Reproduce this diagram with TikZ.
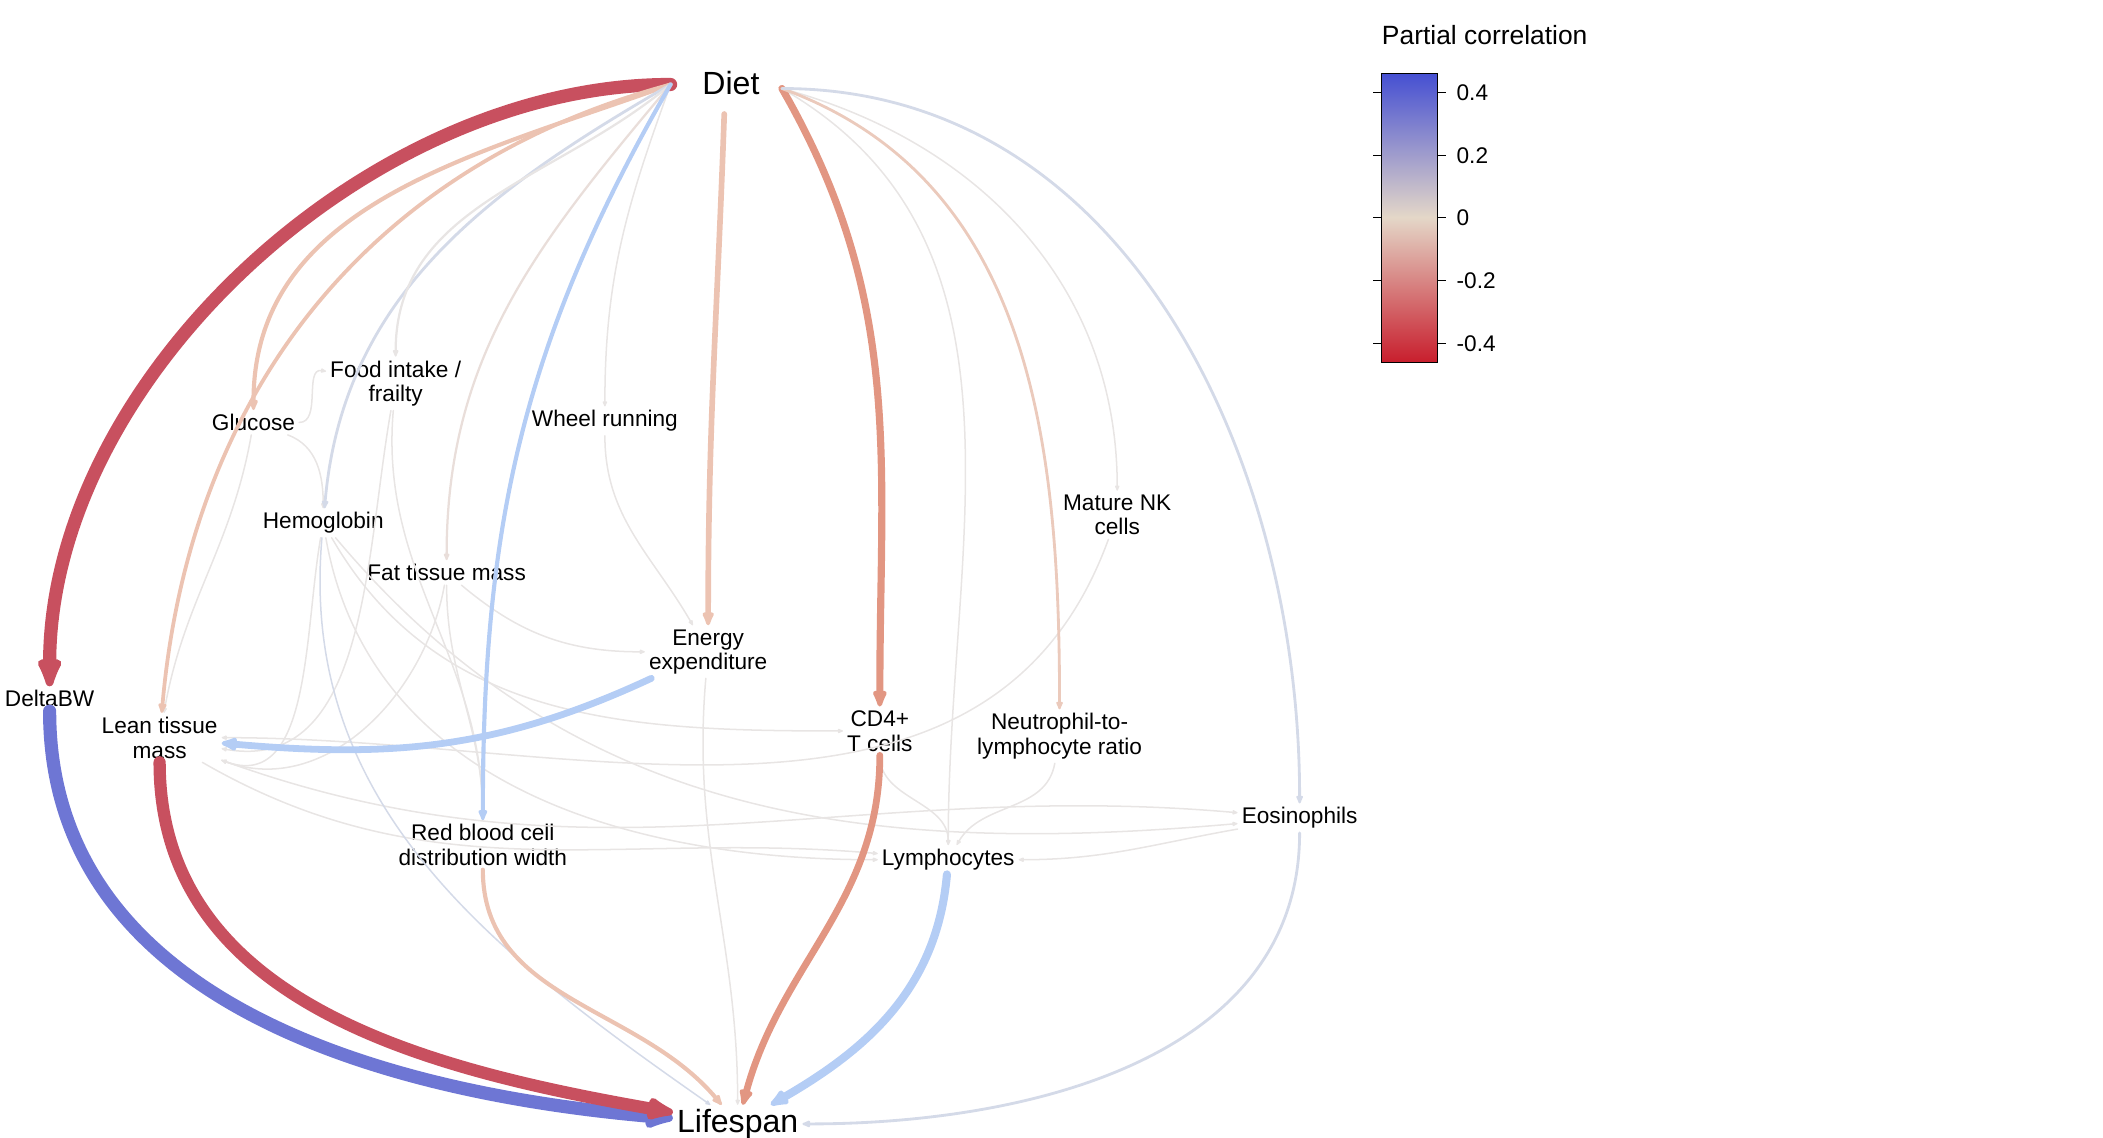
\documentclass[tikz,border=0pt]{standalone}
\usepackage{fontspec}
\setmainfont{Liberation Sans}
\usetikzlibrary{arrows.meta}
\definecolor{cR}{RGB}{200,80,95}
\definecolor{cB}{RGB}{110,118,212}
\definecolor{cS}{RGB}{226,150,130}
\definecolor{cLS}{RGB}{236,195,178}
\definecolor{cLB}{RGB}{180,205,245}
\definecolor{cG}{RGB}{212,218,232}
\definecolor{cF}{RGB}{232,229,228}
\definecolor{cbB}{RGB}{70,80,210}
\definecolor{cbLB}{RGB}{165,198,248}
\definecolor{cbZ}{RGB}{228,215,200}
\definecolor{cbS}{RGB}{232,150,120}
\definecolor{cbR}{RGB}{200,30,45}
\tikzset{
 lbl/.style={align=center,font=\fontsize{12}{13}\selectfont,inner sep=2pt},
 big/.style={font=\fontsize{17}{18}\selectfont,inner sep=2pt},
 edge/.style={-{Latex[round,scale=0.6]},line cap=round},
 tk/.style={font=\fontsize{12}{13}\selectfont,anchor=west}
}
\begin{document}
\begin{tikzpicture}[x=0.025cm,y=-0.025cm]
\useasboundingbox (0,0) rectangle (1568,848);
\node[big] (diet) at (545,62) {Diet};
\coordinate (dL) at (500,63);
\coordinate (dM) at (540,85);
\coordinate (dR) at (583,66);
\node[big] (life) at (550,838) {Lifespan};
\node[lbl] (glu) at (189,315) {Glucose};
\node[lbl] (food) at (295,286) {Food intake /\\frailty};
\node[lbl] (wheel) at (451,314) {Wheel running};
\node[lbl] (hem) at (241,390) {Hemoglobin};
\node[lbl] (fat) at (333,427) {Fat tissue mass};
\node[lbl] (nk) at (833,384) {Mature NK\\cells};
\node[lbl] (en) at (528,486) {Energy\\expenditure};
\node[lbl] (dbw) at (37,521) {DeltaBW};
\node[lbl] (lean) at (119,550) {Lean tissue\\mass};
\node[lbl] (cd4) at (656,545) {CD4+\\T cells};
\node[lbl] (nlr) at (790,549) {Neutrophil-to-\\lymphocyte ratio};
\node[lbl] (eos) at (969,610) {Eosinophils};
\node[lbl] (rbc) at (360,630) {Red blood cell\\distribution width};
\node[lbl] (lym) at (707,641) {Lymphocytes};
% faint edges
\begin{scope}[edge,cF,line width=0.8pt]
\draw (glu) to[out=0,in=-190] (food);
\draw (glu) to[out=-20,in=-270] (hem);
\draw (glu) to[out=-100,in=-280] (lean);
\draw (food) to[out=-100,in=-10] (lean);
\draw (hem) to[out=-100,in=-20] (lean);
\draw (hem) to[out=-80,in=-180] (lym);
\draw (hem) to[out=-60,in=-180] (cd4);
\draw (hem) to[out=-50,in=-175] (eos);
\draw (fat) to[out=-100,in=-20] (lean);
\draw (fat) to[out=-40,in=-180] (en);
\draw (fat) to[out=-90,in=-270] (rbc);
\draw (food) to[out=-95,in=-270] (rbc);
\draw (nk) to[out=-110,in=0] (lean);
\draw (nlr) to[out=-100,in=-300] (lym);
\draw (eos) to[out=-170,in=0] (lym);
\draw (lean) to[out=-30,in=-185] (lym);
\draw (lean) to[out=-20,in=-185] (eos);
\draw (wheel) to[out=-90,in=-240] (en);
\draw (cd4) to[out=-90,in=-270] (lym);
\draw (en) to[out=-95,in=-270] (life);
\draw (dL) to[out=-110,in=-270] (wheel);
\draw (dR) to[out=-15,in=-270] (nk);
\draw (dR) to[out=-30,in=-270] (lym);
\draw[cG] (hem) to[out=-95,in=-215] (life);
\end{scope}
% diet edges
\draw[edge,cR,line width=7pt] (dL) to[out=-180,in=-270,looseness=0.9] (dbw);
\draw[edge,cLS,line width=2pt] (dL) to[out=-165,in=-275] (lean);
\draw[edge,cLS,line width=2.2pt] (dL) to[out=-160,in=-270] (glu);
\draw[edge,cG,line width=1.5pt] (dL) to[out=-150,in=-275] (hem);
\draw[edge,cF,line width=1.2pt] (dL) to[out=-140,in=-270] (food);
\draw[edge,cF!80!cLS,line width=1.2pt] (dL) to[out=-130,in=-270] (fat);
\draw[edge,cLB,line width=2.2pt] (dL) to[out=-120,in=-270] (rbc);
\draw[edge,cLS,line width=3pt] (dM) to[out=-92,in=-270] (en);
\draw[edge,cS,line width=3.8pt] (dR) to[out=-60,in=-270] (cd4);
\draw[edge,cLS!80!cF,line width=1.5pt] (dR) to[out=-20,in=-270] (nlr);
\draw[edge,cG,line width=1.5pt] (dR) to[out=0,in=-270] (eos);
\draw[edge,cLB,line width=3.6pt] (en) to[out=-155,in=-5] (lean);
% lifespan edges
\draw[edge,cB,line width=7pt] (dbw) to[out=-90,in=-185] (life);
\draw[edge,cR,line width=6.5pt] (lean) to[out=-90,in=-190] (life);
\draw[edge,cLS,line width=2.2pt] (rbc) to[out=-90,in=-230] (life);
\draw[edge,cS,line width=3.6pt] (cd4) to[out=-90,in=-285] (life);
\draw[edge,cLB,line width=4.3pt] (lym) to[out=-95,in=-330] (life);
\draw[edge,cG,line width=1.5pt] (eos) to[out=-90,in=0] (life);
% colorbar
\node[font=\fontsize{14}{15}\selectfont] (cbt) at (1107,26) {Partial correlation};
\shade[top color=cbB,middle color=cbLB,bottom color=cbZ] (1030,55) rectangle (1072,162);
\shade[top color=cbZ,middle color=cbS,bottom color=cbR] (1030,162) rectangle (1072,270);
\draw[line width=0.6pt] (1030,55) rectangle (1072,270);
\foreach \y/\t in {69/0.4,116/0.2,162/0,209/-0.2,256/-0.4}{
 \draw[line width=0.8pt] (1072,\y) -- (1078,\y) node[tk,right=2pt] {\t};
 \draw[line width=0.8pt] (1030,\y) -- (1024,\y);
}
\end{tikzpicture}
\end{document}
